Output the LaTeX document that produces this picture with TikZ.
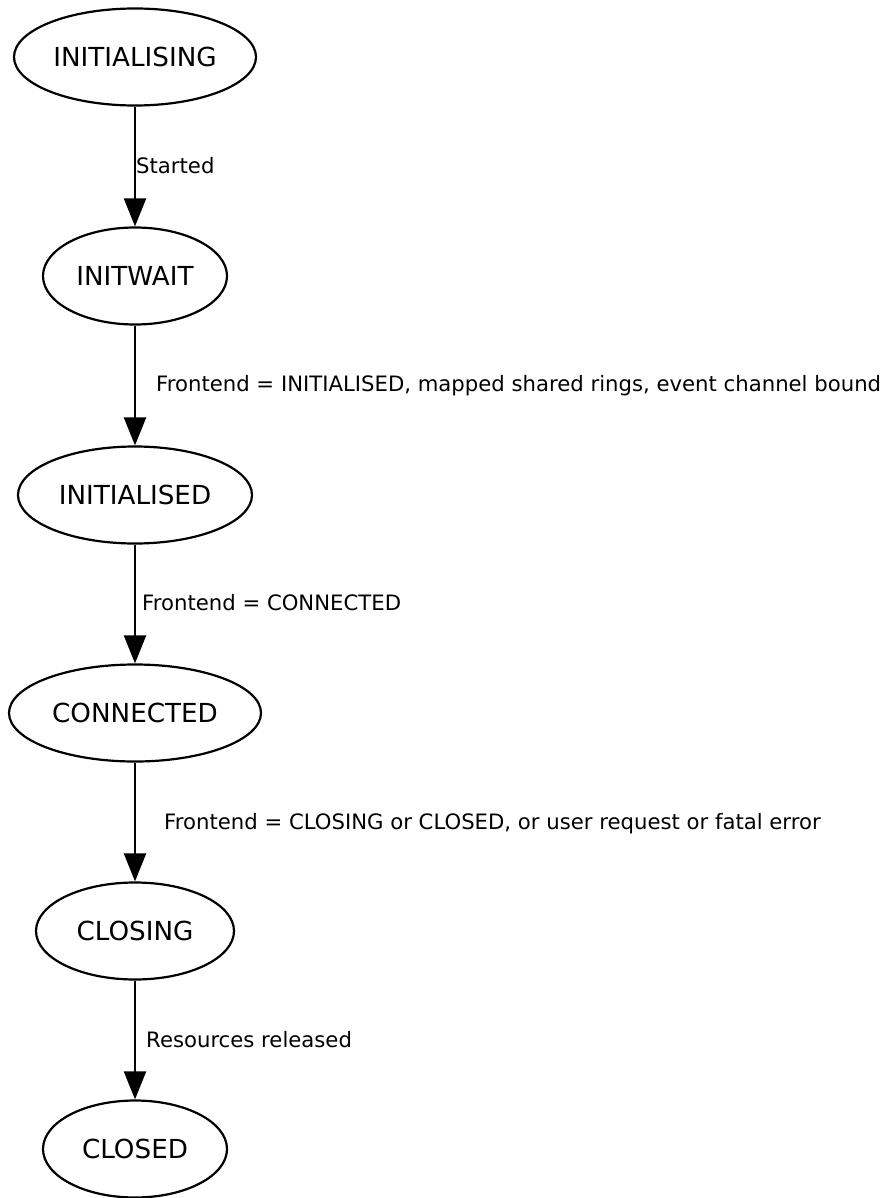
\documentclass[tikz,border=0pt]{standalone}
\usepackage{fontspec}
\setmainfont{DejaVu Sans}
\usetikzlibrary{shapes.geometric,arrows.meta}
\begin{document}
\begin{tikzpicture}[x=1pt,y=-1pt,
  state/.style={ellipse,draw,line width=2.2pt,inner sep=0pt,minimum height=97pt,font=\fontsize{26.2}{32}\selectfont},
  trans/.style={line width=2.2pt,-{Triangle[length=28pt,width=22pt]}},
  lab/.style={anchor=base west,inner sep=0pt,font=\fontsize{21.2}{25}\selectfont}]
\useasboundingbox (0,0) rectangle (893,1198);
\node[state,minimum width=242pt] (s1) at (135,57) {INITIALISING};
\node[state,minimum width=184pt] (s2) at (135,276) {INITWAIT};
\node[state,minimum width=234pt] (s3) at (135,495) {INITIALISED};
\node[state,minimum width=252pt] (s4) at (135,713) {CONNECTED};
\node[state,minimum width=198pt] (s5) at (135,931) {CLOSING};
\node[state,minimum width=184pt] (s6) at (135,1149) {CLOSED};
\draw[trans] (s1) -- (s2);
\draw[trans] (s2) -- (s3);
\draw[trans] (s3) -- (s4);
\draw[trans] (s4) -- (s5);
\draw[trans] (s5) -- (s6);
\node[lab] (l1) at (136,174) {Started};
\node[lab] (l2) at (156,391) {Frontend = INITIALISED, mapped shared rings, event channel bound};
\node[lab] (l3) at (142,610) {Frontend = CONNECTED};
\node[lab] (l4) at (164,829) {Frontend = CLOSING or CLOSED, or user request or fatal error};
\node[lab] (l5) at (146,1047) {Resources released};
\end{tikzpicture}
\end{document}
